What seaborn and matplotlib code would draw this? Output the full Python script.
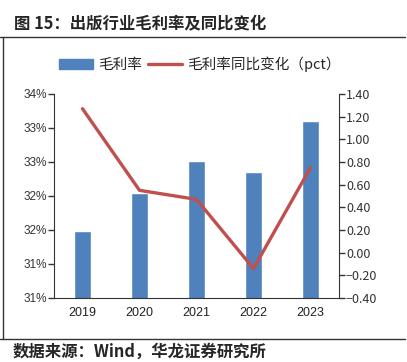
import matplotlib.pyplot as plt
import seaborn as sns
import pandas as pd
import numpy as np
from matplotlib.lines import Line2D
from matplotlib.patches import Patch

# data
years = ['2019', '2020', '2021', '2022', '2023']
margin = [31.49, 32.04, 32.51, 32.36, 33.10]          # gross margin, %
margin_chg = [1.27, 0.55, 0.47, -0.14, 0.75]          # yoy change, pct
left_ticks = [30.5, 31.0, 31.5, 32.0, 32.5, 33.0, 33.5]
left_labels = ['31%', '31%', '32%', '32%', '33%', '33%', '34%']
right_ticks = [-0.4, -0.2, 0.0, 0.2, 0.4, 0.6, 0.8, 1.0, 1.2, 1.4]

blue = '#4F81BD'
red = '#C0504D'

sns.set_style('white')
plt.rcParams['font.family'] = ['Liberation Sans', 'Noto Sans CJK SC', 'DejaVu Sans']
cjk = ['Noto Sans CJK SC', 'DejaVu Sans']

df = pd.DataFrame({'year': years, 'margin': margin, 'chg': margin_chg})

fig = plt.figure(figsize=(4.07, 3.62), dpi=100)
ax = fig.add_axes([54 / 407, 1 - 298 / 362, (339 - 54) / 407, (298 - 94) / 362])

sns.barplot(data=df, x='year', y='margin', color=blue, saturation=1,
            width=0.31, ax=ax, zorder=2)
ax.set_ylim(30.5, 33.5)
ax.set_xlim(-0.5, len(years) - 0.5)
ax.set_yticks(left_ticks)
ax.set_yticklabels(left_labels)
ax.set_xlabel('')
ax.set_ylabel('')
# x ticks sit on category borders, labels centred
ax.set_xticks(np.arange(len(years) + 1) - 0.5)
ax.set_xticklabels([''] * (len(years) + 1))
for i, yr in enumerate(years):
    ax.text(i, -0.075, yr, transform=ax.get_xaxis_transform(), ha='center',
            va='center', fontsize=9, color='#222222')
ax.tick_params(axis='y', direction='out', length=4, width=1, color='#333333',
               labelsize=8.5, labelcolor='#333333', pad=1)
ax.tick_params(axis='x', direction='out', length=4, width=1, color='#333333')
for s in ['top', 'right']:
    ax.spines[s].set_visible(False)
ax.spines['left'].set_color('#333333')
ax.spines['bottom'].set_color('#333333')

ax2 = ax.twinx()
sns.lineplot(x=np.arange(len(years)), y=df['chg'], color=red, linewidth=2.4,
             ax=ax2, zorder=3)
ax2.set_ylim(-0.4, 1.4)
ax2.set_yticks(right_ticks)
ax2.set_yticklabels([f'{v:.2f}'.replace('-', '−') for v in right_ticks],
                    family=cjk)
ax2.set_ylabel('')
ax2.tick_params(axis='y', direction='out', length=4, width=1, color='#333333',
                labelsize=9, labelcolor='#333333', pad=1)
for s in ['top', 'left', 'bottom']:
    ax2.spines[s].set_visible(False)
ax2.spines['right'].set_color('#333333')
ax2.set_xlim(-0.5, len(years) - 0.5)

handles = [Patch(color=blue), Line2D([], [], color=red, linewidth=2.4)]
fig.legend(handles, ['毛利率', '毛利率同比变化（pct）'], loc='center',
           bbox_to_anchor=(200 / 407, 1 - 64 / 362), ncol=2, frameon=False,
           prop={'family': cjk, 'size': 10.5}, handlelength=2.3,
           handleheight=0.7, columnspacing=0.4, handletextpad=0.4)

# frame lines and titles
fig.add_artist(Line2D([0, 405 / 407], [1 - 37 / 362] * 2, color='#333333', lw=1))
fig.add_artist(Line2D([0, 405 / 407], [1 - 339 / 362] * 2, color='#333333', lw=1))
fig.add_artist(Line2D([3 / 407] * 2, [1 - 37 / 362, 1 - 339 / 362], color='#333333', lw=1))
fig.text(14 / 407, 1 - 24 / 362, '图 15：出版行业毛利率及同比变化', family=cjk,
         fontsize=11.8, fontweight='bold', va='center', ha='left')
fig.text(13 / 407, 1 - 352 / 362, '数据来源：Wind，华龙证券研究所', family=cjk,
         fontsize=11.8, fontweight='bold', va='center', ha='left')

fig.savefig('out.png', dpi=100)
